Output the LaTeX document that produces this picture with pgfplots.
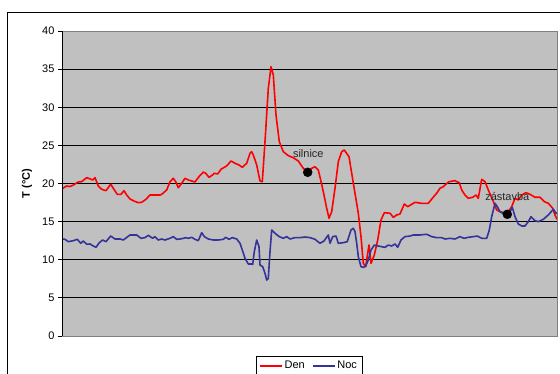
\documentclass[border=0pt]{standalone}
\usepackage{fontspec}
\setmainfont{Liberation Sans}
\usepackage{pgfplots}
\pgfplotsset{compat=1.18}
\definecolor{plotgray}{HTML}{C0C0C0}
\definecolor{bordergray}{HTML}{808080}
\definecolor{nocblue}{HTML}{333399}
\begin{document}
\begin{tikzpicture}
\begin{axis}[
  scale only axis,
  width=495pt, height=305pt,
  xmin=0, xmax=495, ymin=0, ymax=40,
  xtick=\empty,
  ytick={0,5,...,40},
  ytick pos=left,
  tick align=outside,
  major tick length=4pt,
  ytick style={black, line width=0.8pt},
  ymajorgrids,
  grid style={black, line width=0.8pt},
  axis background/.style={fill=plotgray},
  axis line style={bordergray, line width=0.8pt},
  /pgf/number format/assume math mode=true,
  tick label style={font=\fontsize{11}{13}\selectfont},
  ylabel={T (°C)},
  ylabel style={at={(axis description cs:-0.0707,0.5)}, anchor=center, font=\fontsize{11}{13}\selectfont\bfseries},
  legend columns=2,
  legend style={at={(0.499,-0.0656)}, anchor=north, draw=black, line width=0.8pt, fill=white,
    font=\fontsize{11}{13}\selectfont, inner xsep=3pt, inner ysep=3pt,
    /tikz/every even column/.append style={column sep=5pt}},
  legend image code/.code={\draw[#1] (0pt,0pt) -- (22pt,0pt);},
]
\addplot[red, line width=1.6pt, line join=round] coordinates {
(0.7,19.37) (4.7,19.67) (8,19.6) (11.3,19.8) (16.3,20.2) (19.7,20.24) (24.7,20.77) (28,20.6)
(30.7,20.46) (33,20.77) (36.3,19.67) (39.7,19.24) (44,19.06) (48.7,19.9) (51.3,19.37) (55.3,18.58)
(59,18.58) (62,19.06) (64.7,18.49) (68,17.97) (72,17.7) (76.3,17.48) (79.7,17.53) (84,17.93)
(88,18.49) (98,18.49) (99.7,18.58) (104.7,19.15) (108,20.24) (111.3,20.68) (113.7,20.24) (116.3,19.45)
(119.7,20.03) (123,20.68) (126.3,20.46) (129.7,20.33) (133,20.2) (137,20.9) (141.3,21.5) (143.7,21.34)
(147,20.8) (150.3,21.1) (152.3,21.34) (155.7,21.25) (159,21.86) (162.3,22.12) (164.7,22.3) (169,22.95)
(173,22.65) (177,22.43) (180.3,22.12) (184.7,22.65) (188,23.96) (189.7,24.17) (191.3,23.74) (194.7,22.43)
(198,20.33) (200.3,20.24) (203,25.48) (206.3,32.48) (209,35.32) (211.3,34.23) (214,28.98) (217.3,25.48)
(221.3,24.17) (226.3,23.65) (231.3,23.38) (236.3,22.95) (241.3,21.99) (245.7,21.47) (249.7,21.99) (253,22.2)
(256.3,21.77) (258.7,20.46) (262,18.49) (264.7,16.75) (267,15.44) (269.7,16.3) (273,19.37) (276.3,22.86)
(279.7,24.17) (282.3,24.39) (285.3,23.83) (287,23.52) (289.7,21.34) (293,18.72) (296.3,16.1) (299,13.03)
(301.3,9.53) (303.7,9.09) (305.7,10.85) (307,11.93) (309,9.53) (312.3,10.62) (315.7,12.59) (319,15.21)
(322.3,16.17) (328,16.1) (331.3,15.57) (334.7,15.87) (338,16.0) (342.3,17.31) (345.7,16.96) (353,17.53)
(359.7,17.4) (366.3,17.4) (370.3,18.06) (374.7,18.72) (378,19.37) (381.3,19.58) (383,19.8) (387,20.24)
(393,20.37) (394.7,20.24) (397.3,20.11) (399.7,19.15) (403,18.49) (406.3,18.06) (410.7,18.19) (414,18.49)
(416.3,18.06) (419.7,20.55) (423,20.24) (426.3,19.15) (430.7,17.84) (434.7,16.52) (438,16.3) (442,16.17)
(446.3,16.3) (449.7,16.96) (453,18.06) (456.3,17.84) (459.7,18.49) (464,18.8) (468,18.58) (473,18.19)
(478,18.19) (482.3,17.62) (486.3,17.4) (490.7,16.75) (493,15.87) (495,15.3)
};
\addlegendentry{Den}
\addplot[nocblue, line width=1.6pt, line join=round] coordinates {
(0.7,12.72) (3,12.68) (6.3,12.37) (11.3,12.5) (15.3,12.68) (18.7,12.16) (21.3,12.46) (24.7,12.03)
(28,12.07) (31.3,11.8) (34,11.63) (37.3,12.24) (40.7,12.59) (44,12.37) (48.7,13.11) (53,12.72)
(58,12.72) (61.3,12.59) (68,13.25) (74.7,13.25) (79,12.81) (83,12.9) (86.3,13.2) (90.7,12.81)
(93,13.03) (96.3,12.59) (99.7,12.72) (103,12.59) (108,12.81) (111.3,13.03) (114.7,12.68) (118,12.72)
(121.3,12.81) (123.7,12.9) (126.3,12.81) (129.7,12.94) (133,12.68) (136.3,12.5) (139.7,13.55) (142.3,13.03)
(146.3,12.72) (151.3,12.59) (156.3,12.59) (161.3,12.68) (163.7,12.94) (167,12.68) (170.3,12.9) (174.7,12.72)
(178,12.16) (180.3,11.28) (183,10.19) (186.3,9.44) (189.7,9.44) (190.7,9.4) (192.3,11.06) (194.7,12.59)
(197,11.71) (198,9.31) (200.7,9.09) (203,8.22) (204.7,7.34) (206.3,7.56) (208,11.06) (209.7,13.9)
(213,13.47) (217.3,13.03) (221.3,12.81) (224.7,13.03) (228,12.72) (233,12.9) (238,12.9) (243,12.98)
(248,12.9) (253,12.68) (258,12.16) (262,12.46) (266.3,13.25) (268,12.16) (270.7,13.03) (274,13.11)
(276.3,12.16) (281.3,12.24) (285.3,12.37) (286.3,12.81) (289,13.9) (291.3,14.12) (293,13.68) (294.7,12.16)
(296.3,10.4) (299,9.09) (301.3,9.0) (303.7,9.18) (306.3,9.97) (309,11.28) (312.3,11.93) (316.3,11.8)
(319.7,11.71) (323,11.63) (326.3,11.93) (329.7,11.8) (333,12.07) (335.7,11.63) (339,12.59) (343,13.03)
(348,13.11) (351.3,13.25) (358,13.25) (364.7,13.34) (369.7,13.03) (374.7,12.9) (379.7,12.9) (383,12.72)
(388,12.81) (393,12.72) (398,13.03) (402,12.81) (406.3,12.94) (411.3,13.03) (415.3,13.11) (419.7,12.81)
(424.7,12.81) (427.3,13.9) (429.7,15.65) (433,17.4) (435.3,16.96) (438,16.3) (442,16.0) (445.3,15.96)
(448,16.3) (450.3,16.88) (453,15.65) (456.3,14.69) (459.7,14.43) (463,14.43) (466.3,14.99) (469,15.65)
(473,15.13) (476.3,14.99) (481.3,15.3) (486.3,15.87) (491.3,16.62) (494,16.09) (495,16.1)
};
\addlegendentry{Noc}
\addplot[only marks, mark=*, mark size=4.5pt, black, forget plot] coordinates {
(245.7,21.47) (445.3,15.96)
};
\node[font=\fontsize{11}{13}\selectfont, text=black!85] at (axis cs:246.3,23.87) {silnice};
\node[font=\fontsize{11}{13}\selectfont, text=black!85] at (axis cs:445.3,18.27) {zástavba};
\draw[black, line width=0.8pt] (rel axis cs:0,0) -- (rel axis cs:0,1);
\end{axis}
\pgfresetboundingbox
\path[use as bounding box] (-62pt,-38pt) rectangle (498pt,336pt);
\draw[black, line width=0.8pt] (-55pt,-40pt) -- (-55pt,324pt) -- (500pt,324pt);
\end{tikzpicture}
\end{document}
